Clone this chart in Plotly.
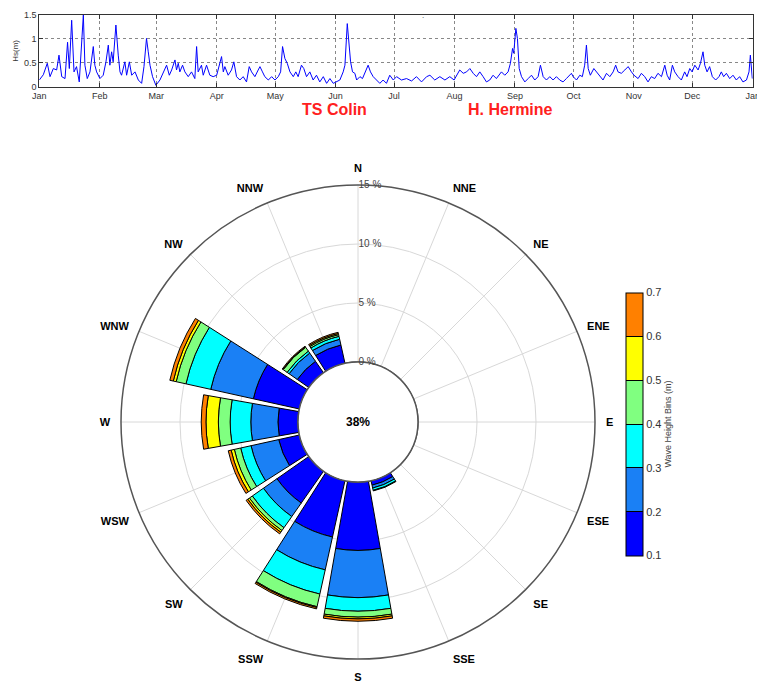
import plotly.graph_objects as go
import pandas as pd

# ---------------- Time series (Hs, 2016) ----------------
day_of_year = [0, 2.05, 4.1, 5.5, 7.2, 8.9, 10.1, 11.5, 13.2, 14.5, 15.4, 16.6, 17.8, 19.1, 20.5, 22.6, 23.4, 24.6,
               26.0, 27.7, 28.5, 29.4, 31.1, 32.8, 34.2, 35.4, 36.2, 37.1, 37.9, 39.3, 40.5, 41.4, 42.2, 43.9, 44.8,
               46.2, 47.4, 49.1, 50.8, 52.5, 53.7, 55.0, 55.9, 56.8, 58.1, 59.8, 61.9, 63.6, 65.3, 66.7, 67.9, 69.6,
               70.4, 71.3, 72.1, 73.5, 74.7, 76.4, 78.1, 79.8, 80.7, 81.5, 83.2, 84.1, 85.8, 87.5, 89.2,
               91.0, 92.3, 93.5, 94.4, 95.2, 96.9, 98.6, 99.8, 101.2, 102.9, 104.6, 106.3, 107.7, 108.9, 110.6, 112.3,
               113.2, 114.5, 115.7, 117.5, 119.2, 120.9, 122.6, 123.8, 124.8, 126.0, 127.2, 128.6, 130.3, 131.6, 132.8,
               134.5, 135.7, 137.1, 138.8, 140.5, 142.2, 143.9, 145.7, 147.4, 149.1, 150.8, 152.2, 154.2, 155.9, 156.8,
               158.0, 159.0, 159.7, 160.7, 161.9, 162.8, 164.5, 165.8, 167.0, 168.7, 169.9, 171.3, 173.0, 174.7, 176.4,
               178.1, 179.8, 181.6, 183.3, 185.8, 188.4, 191.0, 193.5, 196.1, 198.7, 200.4, 202.9, 205.5, 208.1, 210.6,
               212.8, 214.0, 215.7, 217.5, 219.2, 220.9, 222.6, 224.3, 226.0, 227.7, 229.4, 231.1, 232.8, 234.5, 237.1,
               238.8, 240.5, 241.7, 242.8, 243.4, 244.5, 245.3, 246.2, 247.4, 249.1, 250.8, 252.5, 254.2, 255.9, 257.1,
               258.5, 260.2, 261.9, 263.6, 265.3, 267.0, 268.7, 270.4, 273.0, 273.9, 275.6, 277.3, 278.6, 279.8, 280.7,
               281.6, 282.7, 284.5, 285.8, 287.5, 289.2, 291.0, 292.7, 294.4, 295.7, 296.9, 298.6, 300.4, 302.1, 303.8,
               305.1, 307.2, 308.9, 310.6, 312.3, 314.0, 315.7, 317.4, 319.2, 320.9, 322.1, 323.4, 324.8, 326.0, 327.7,
               329.4, 331.1, 332.3, 333.7, 334.9, 336.3, 338.0, 339.2, 340.5, 341.4, 342.6, 343.9, 345.3, 347.0, 348.7,
               349.9, 351.1, 352.5, 354.2, 355.9, 357.6, 359.3, 361.0, 362.8, 364.1, 364.8, 365.8]
hs_m = [0.14, 0.25, 0.49, 0.21, 0.38, 0.35, 0.66, 0.21, 0.17, 0.93, 0.38, 1.39, 0.31, 0.42, 0.10, 1.50, 0.45, 0.17,
        0.31, 0.84, 0.45, 0.31, 0.17, 0.24, 0.52, 0.87, 0.45, 0.73, 0.52, 1.29, 0.66, 0.31, 0.24, 0.52, 0.24,
        0.52, 0.24, 0.31, 0.14, 0.07, 0.42, 1.01, 0.73, 0.45, 0.21, 0.03, 0.14, 0.31, 0.45, 0.24, 0.35, 0.56,
        0.35, 0.49, 0.31, 0.45, 0.31, 0.21, 0.31, 0.17, 0.84, 0.31, 0.45, 0.24, 0.45, 0.24, 0.21,
        0.24, 0.42, 0.63, 0.31, 0.42, 0.24, 0.35, 0.52, 0.21, 0.14, 0.21, 0.10, 0.42, 0.31, 0.21, 0.35,
        0.42, 0.31, 0.21, 0.14, 0.21, 0.14, 0.21, 0.31, 0.84, 0.59, 0.49, 0.31, 0.21, 0.31, 0.21,
        0.45, 0.38, 0.21, 0.31, 0.14, 0.24, 0.10, 0.21, 0.07, 0.17, 0.07, 0.10, 0.14, 0.31, 0.45,
        1.32, 0.80, 0.52, 0.31, 0.28, 0.14, 0.21, 0.17, 0.28, 0.45, 0.31, 0.21, 0.14, 0.07, 0.14,
        0.07, 0.24, 0.14, 0.21, 0.14, 0.17, 0.12, 0.21, 0.10, 0.21, 0.24, 0.14, 0.21, 0.14, 0.21,
        0.14, 0.24, 0.35, 0.28, 0.31, 0.38, 0.28, 0.21, 0.31, 0.21, 0.10, 0.14, 0.24, 0.17, 0.31,
        0.24, 0.31, 0.49, 0.80, 0.70, 1.22, 1.01, 0.38, 0.21, 0.10, 0.17, 0.24, 0.14, 0.21, 0.45,
        0.21, 0.14, 0.21, 0.14, 0.21, 0.14, 0.10, 0.17, 0.28, 0.21, 0.14, 0.24, 0.21, 0.45, 0.87,
        0.38, 0.24, 0.38, 0.31, 0.24, 0.14, 0.28, 0.21, 0.31, 0.45, 0.31, 0.28, 0.35, 0.42, 0.31,
        0.24, 0.17, 0.28, 0.21, 0.10, 0.21, 0.17, 0.28, 0.21, 0.45, 0.24, 0.14, 0.45, 0.31, 0.21,
        0.14, 0.31, 0.21, 0.38, 0.31, 0.45, 0.35, 0.49, 0.73, 0.45, 0.31, 0.42, 0.21, 0.14, 0.21,
        0.31, 0.21, 0.28, 0.17, 0.24, 0.14, 0.21, 0.10, 0.14, 0.31, 0.66, 0.17]
month_ticks = ["2016-01-01", "2016-02-01", "2016-03-01", "2016-04-01", "2016-05-01", "2016-06-01", "2016-07-01",
               "2016-08-01", "2016-09-01", "2016-10-01", "2016-11-01", "2016-12-01", "2017-01-01"]
month_labels = ["Jan", "Feb", "Mar", "Apr", "May", "Jun", "Jul", "Aug", "Sep", "Oct", "Nov", "Dec", "Jan"]
hs_ticks = [0, 0.5, 1, 1.5]
hs_tick_labels = ["0", "0.5", "1", "1.5"]

# ---------------- Wave rose ----------------
directions = ["N", "NNE", "NE", "ENE", "E", "ESE", "SE", "SSE",
              "S", "SSW", "SW", "WSW", "W", "WNW", "NW", "NNW"]
dir_angles = [0, 22.5, 45, 67.5, 90, 112.5, 135, 157.5, 180, 202.5, 225, 247.5, 270, 292.5, 315, 337.5]
bin_labels = ["0.1-0.2", "0.2-0.3", "0.3-0.4", "0.4-0.5", "0.5-0.6", "0.6-0.7"]
bin_colors = ["#0000FF", "#1A80F5", "#00FFFF", "#80FF80", "#FFFF00", "#FF8000"]
#               N  NNE NE ENE E ESE SE  SSE   S     SSW   SW    WSW   W     WNW   NW    NNW
freq_01_02 = [0, 0, 0, 0, 0, 0, 0, 0.40, 5.80, 4.90, 3.30, 1.80, 1.70, 4.00, 1.20, 1.60]
freq_02_03 = [0, 0, 0, 0, 0, 0, 0, 0.25, 4.00, 2.85, 1.40, 2.40, 2.30, 3.70, 0.85, 0.50]
freq_03_04 = [0, 0, 0, 0, 0, 0, 0, 0.20, 1.15, 2.10, 1.15, 0.90, 1.75, 2.15, 0.20, 0.25]
freq_04_05 = [0, 0, 0, 0, 0, 0, 0, 0.05, 0.50, 1.10, 0.30, 0.55, 1.00, 0.85, 0.40, 0.15]
freq_05_06 = [0, 0, 0, 0, 0, 0, 0, 0.00, 0.15, 0.07, 0.17, 0.28, 1.05, 0.25, 0.05, 0.10]
freq_06_07 = [0, 0, 0, 0, 0, 0, 0, 0.00, 0.20, 0.12, 0.17, 0.25, 0.40, 0.30, 0.05, 0.10]
bin_freqs = [freq_01_02, freq_02_03, freq_03_04, freq_04_05, freq_05_06, freq_06_07]
radial_ticks = [0, 5, 10, 15]
calm_text = "38%"
cbar_ticks = [0.1, 0.2, 0.3, 0.4, 0.5, 0.6, 0.7]

W, H = 765, 683
OX, OY = 8, 8  # page body offset


def fx(px):
    return (px - OX) / W


def fy(py):
    return (H - (py - OY)) / H


fig = go.Figure()

base = pd.Timestamp("2016-01-01")
dates = [base + pd.Timedelta(days=d) for d in day_of_year]
fig.add_trace(go.Scatter(x=dates, y=hs_m, mode="lines", line=dict(color="#0000FF", width=1),
                         xaxis="x", yaxis="y", showlegend=False, hoverinfo="skip"))

for lab, col, fr in zip(bin_labels, bin_colors, bin_freqs):
    fig.add_trace(go.Barpolar(r=fr, theta=dir_angles, width=20, name=lab,
                              marker=dict(color=col, line=dict(color="black", width=1)),
                              showlegend=False, subplot="polar"))

# inner (calm) circle outline at r = 0
ring_theta = list(range(0, 361, 3))
fig.add_trace(go.Scatterpolar(r=[radial_ticks[0]] * len(ring_theta), theta=ring_theta, mode="lines",
                              line=dict(color="#555", width=1.5), showlegend=False,
                              hoverinfo="skip", subplot="polar", cliponaxis=False))

# discrete colour bar
cs = []
n = len(bin_colors)
for i, c in enumerate(bin_colors):
    cs.append([i / n, c])
    cs.append([(i + 1) / n, c])

cbar = dict(x=fx(626), xanchor="left", xpad=0, ypad=0,
            y=fy(424), yanchor="middle",
            len=263, lenmode="pixels", thickness=17,
            outlinecolor="black", outlinewidth=1,
            tickvals=cbar_ticks, ticks="inside", ticklen=17, tickcolor="black", tickwidth=1,
            tickfont=dict(size=11, color="#333", family="Liberation Sans"),
            title=dict(text="Wave Height Bins (m)", side="right",
                       font=dict(size=9, color="#444", family="Liberation Sans")))
marker_cb = dict(color=[0.1], colorscale=cs, cmin=0.1, cmax=0.7, showscale=True, colorbar=cbar)
fig.add_trace(go.Scatter(x=[None], y=[None], mode="markers", showlegend=False,
                         xaxis="x", yaxis="y", marker=marker_cb))

cx, cy, R = 358, 422, 237
fig.update_layout(
    width=W, height=H, margin=dict(l=0, r=0, t=0, b=0, autoexpand=False),
    paper_bgcolor="white", plot_bgcolor="white",
    font=dict(family="Liberation Sans, Arial", color="#222"),
    xaxis=dict(domain=[fx(39.3), fx(752.7)], anchor="y", type="date", automargin=False,
               range=["2016-01-01", "2017-01-01"], tickvals=month_ticks, ticktext=month_labels,
               showgrid=True, gridcolor="#888", griddash="dot", gridwidth=1,
               ticks="inside", ticklen=4, tickcolor="#333", showline=True, linecolor="#333",
               mirror="ticks", tickfont=dict(size=9, color="#333"), zeroline=False),
    yaxis=dict(domain=[fy(86.7), fy(15)], anchor="x", range=[0, 1.5], automargin=False,
               tickvals=hs_ticks, ticktext=hs_tick_labels, showgrid=True, gridcolor="#888",
               griddash="dot", ticks="inside", ticklen=4, tickcolor="#333", showline=True,
               linecolor="#333", mirror="ticks", tickfont=dict(size=9, color="#333"), zeroline=False,
               title=dict(text="Hs(m)", font=dict(size=8, color="#333"), standoff=4)),
    polar=dict(
        domain=dict(x=[fx(cx - R), fx(cx + R)], y=[fy(cy + R), fy(cy - R)]),
        hole=60 / 237, bgcolor="white", barmode="stack",
        angularaxis=dict(rotation=90, direction="clockwise", tickmode="array", tickvals=dir_angles,
                         ticktext=["<b>" + d + "</b>" for d in directions],
                         tickfont=dict(size=11, color="black", family="Liberation Sans, Arial"),
                         ticks="outside", ticklen=8, tickcolor="rgba(0,0,0,0)",
                         showline=True, linecolor="#555", linewidth=1.5,
                         showgrid=True, gridcolor="#d8d8d8", gridwidth=1),
        radialaxis=dict(range=[0, 15], tickvals=radial_ticks,
                        ticktext=[str(t) + " %" for t in radial_ticks], angle=90, tickangle=90,
                        showline=False, showgrid=True, gridcolor="#d8d8d8", gridwidth=1,
                        ticks="", tickfont=dict(size=10, color="#444"), side="clockwise"),
    ),
    annotations=[
        dict(text="<b>" + calm_text + "</b>", x=fx(cx), y=fy(cy), xref="paper", yref="paper",
             xanchor="center", yanchor="middle",
             showarrow=False, font=dict(size=12, color="black")),
        dict(text="<b>TS Colin</b>", x=fx(334), y=fy(110), xref="paper", yref="paper",
             xanchor="center", yanchor="middle",
             showarrow=False, font=dict(size=16, color="#FF2020", family="Liberation Sans, Arial")),
        dict(text="<b>H. Hermine</b>", x=fx(510), y=fy(110), xref="paper", yref="paper",
             xanchor="center", yanchor="middle",
             showarrow=False, font=dict(size=16, color="#FF2020", family="Liberation Sans, Arial")),
        dict(text=".", x=fx(423), y=fy(9), xref="paper", yref="paper",
             xanchor="center", yanchor="top",
             showarrow=False, font=dict(size=8, color="#333")),
    ],
)

fig.write_html("out.html")
